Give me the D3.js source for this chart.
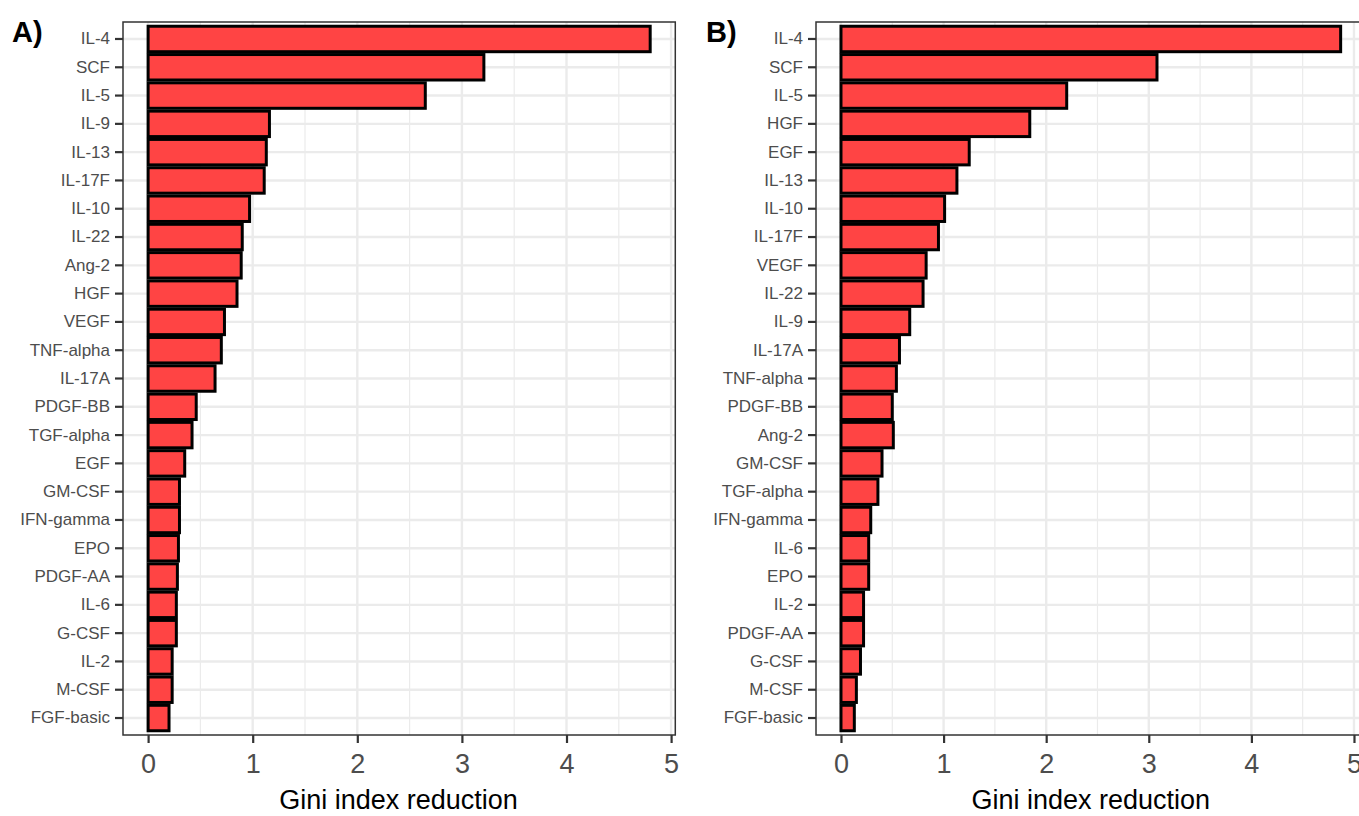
<!DOCTYPE html>
<html>
<head>
<meta charset="utf-8">
<script src="https://cdn.jsdelivr.net/npm/d3@7"></script>
<style>
  body { margin: 0; background: #fff; }
  svg text { font-family: "Liberation Sans", Arial, sans-serif; }
</style>
</head>
<body>
<svg id="chart" width="1359" height="816"></svg>
<script>
// Panel A : categories (top to bottom) et valeurs
let categoriesA = ["IL-4", "SCF", "IL-5", "IL-9", "IL-13", "IL-17F", "IL-10", "IL-22", "Ang-2", "HGF",
  "VEGF", "TNF-alpha", "IL-17A", "PDGF-BB", "TGF-alpha", "EGF", "GM-CSF", "IFN-gamma", "EPO",
  "PDGF-AA", "IL-6", "G-CSF", "IL-2", "M-CSF", "FGF-basic"];
let valeursA = [4.80, 3.21, 2.65, 1.16, 1.13, 1.11, 0.97, 0.90, 0.89, 0.85,
  0.73, 0.70, 0.64, 0.46, 0.42, 0.35, 0.30, 0.30, 0.29,
  0.28, 0.27, 0.27, 0.23, 0.23, 0.20];

// Panel B
let categoriesB = ["IL-4", "SCF", "IL-5", "HGF", "EGF", "IL-13", "IL-10", "IL-17F", "VEGF", "IL-22",
  "IL-9", "IL-17A", "TNF-alpha", "PDGF-BB", "Ang-2", "GM-CSF", "TGF-alpha", "IFN-gamma", "IL-6",
  "EPO", "IL-2", "PDGF-AA", "G-CSF", "M-CSF", "FGF-basic"];
let valeursB = [4.87, 3.08, 2.20, 1.84, 1.25, 1.13, 1.01, 0.95, 0.83, 0.80,
  0.67, 0.57, 0.54, 0.50, 0.51, 0.40, 0.36, 0.29, 0.27,
  0.27, 0.22, 0.22, 0.19, 0.15, 0.13];

let xTicks = [0, 1, 2, 3, 4, 5];
let xMinorTicks = [0.5, 1.5, 2.5, 3.5, 4.5];
let titreX = "Gini index reduction";

let svg = d3.select("#chart");

function dessinerPanneau(label, categories, valeurs, gauche, largeurUnite, haut, bas, xLabel) {
  let maxV = d3.max(valeurs);
  let domaine = [-0.05 * maxV, 1.05 * maxV];
  let droite = gauche + (domaine[1] - domaine[0]) * largeurUnite;

  let x = d3.scaleLinear().domain(domaine).range([gauche, droite]);
  let y = d3.scaleBand().domain(categories).range([haut, bas])
    .paddingInner(0.1).paddingOuter(0.15);

  let g = svg.append("g");

  // grille mineure
  g.selectAll(".minor")
    .data(xMinorTicks)
    .join("line")
    .attr("x1", d => x(d)).attr("x2", d => x(d))
    .attr("y1", haut).attr("y2", bas)
    .attr("stroke", "#ebebeb").attr("stroke-width", 1.2);

  // grille majeure
  g.selectAll(".major")
    .data(xTicks)
    .join("line")
    .attr("x1", d => x(d)).attr("x2", d => x(d))
    .attr("y1", haut).attr("y2", bas)
    .attr("stroke", "#ebebeb").attr("stroke-width", 2.4);

  g.selectAll(".hgrid")
    .data(categories)
    .join("line")
    .attr("x1", gauche).attr("x2", droite)
    .attr("y1", d => y(d) + y.bandwidth() / 2)
    .attr("y2", d => y(d) + y.bandwidth() / 2)
    .attr("stroke", "#ebebeb").attr("stroke-width", 2.4);

  // barres
  g.selectAll(".barre")
    .data(categories)
    .join("rect")
    .attr("x", x(0))
    .attr("y", d => y(d))
    .attr("width", (d, i) => x(valeurs[i]) - x(0))
    .attr("height", y.bandwidth())
    .attr("fill", "#ff4444")
    .attr("stroke", "black")
    .attr("stroke-width", 3);

  // cadre
  g.append("rect")
    .attr("x", gauche).attr("y", haut)
    .attr("width", droite - gauche).attr("height", bas - haut)
    .attr("fill", "none").attr("stroke", "#333333").attr("stroke-width", 1.5);

  // axe y
  let axeY = g.append("g")
    .attr("transform", `translate(${gauche},0)`)
    .call(d3.axisLeft(y).tickSize(8).tickPadding(5));
  axeY.select(".domain").remove();
  axeY.selectAll(".tick line").attr("stroke", "#333333").attr("stroke-width", 2.2);
  axeY.selectAll(".tick text").attr("fill", "#4d4d4d").attr("font-size", "17px");

  // axe x
  let axeX = g.append("g")
    .attr("transform", `translate(0,${bas})`)
    .call(d3.axisBottom(x).tickValues(xTicks).tickSize(8).tickPadding(11).tickFormat(d3.format("d")));
  axeX.select(".domain").remove();
  axeX.selectAll(".tick line").attr("stroke", "#333333").attr("stroke-width", 2.2);
  axeX.selectAll(".tick text").attr("fill", "#4d4d4d").attr("font-size", "27px");

  // titre axe
  g.append("text")
    .attr("x", (gauche + Math.min(droite, gauche + 551)) / 2)
    .attr("y", 809)
    .attr("text-anchor", "middle")
    .attr("font-size", "27px")
    .attr("fill", "black")
    .text(titreX);

  // étiquette du panneau
  g.append("text")
    .attr("x", xLabel)
    .attr("y", 42)
    .attr("font-size", "29px")
    .attr("font-weight", "bold")
    .attr("fill", "black")
    .text(label);
}

dessinerPanneau("A)", categoriesA, valeursA, 123, 104.6, 22, 735, 12);
dessinerPanneau("B)", categoriesB, valeursB, 816, 102.6, 22, 735, 706);
</script>
</body>
</html>
